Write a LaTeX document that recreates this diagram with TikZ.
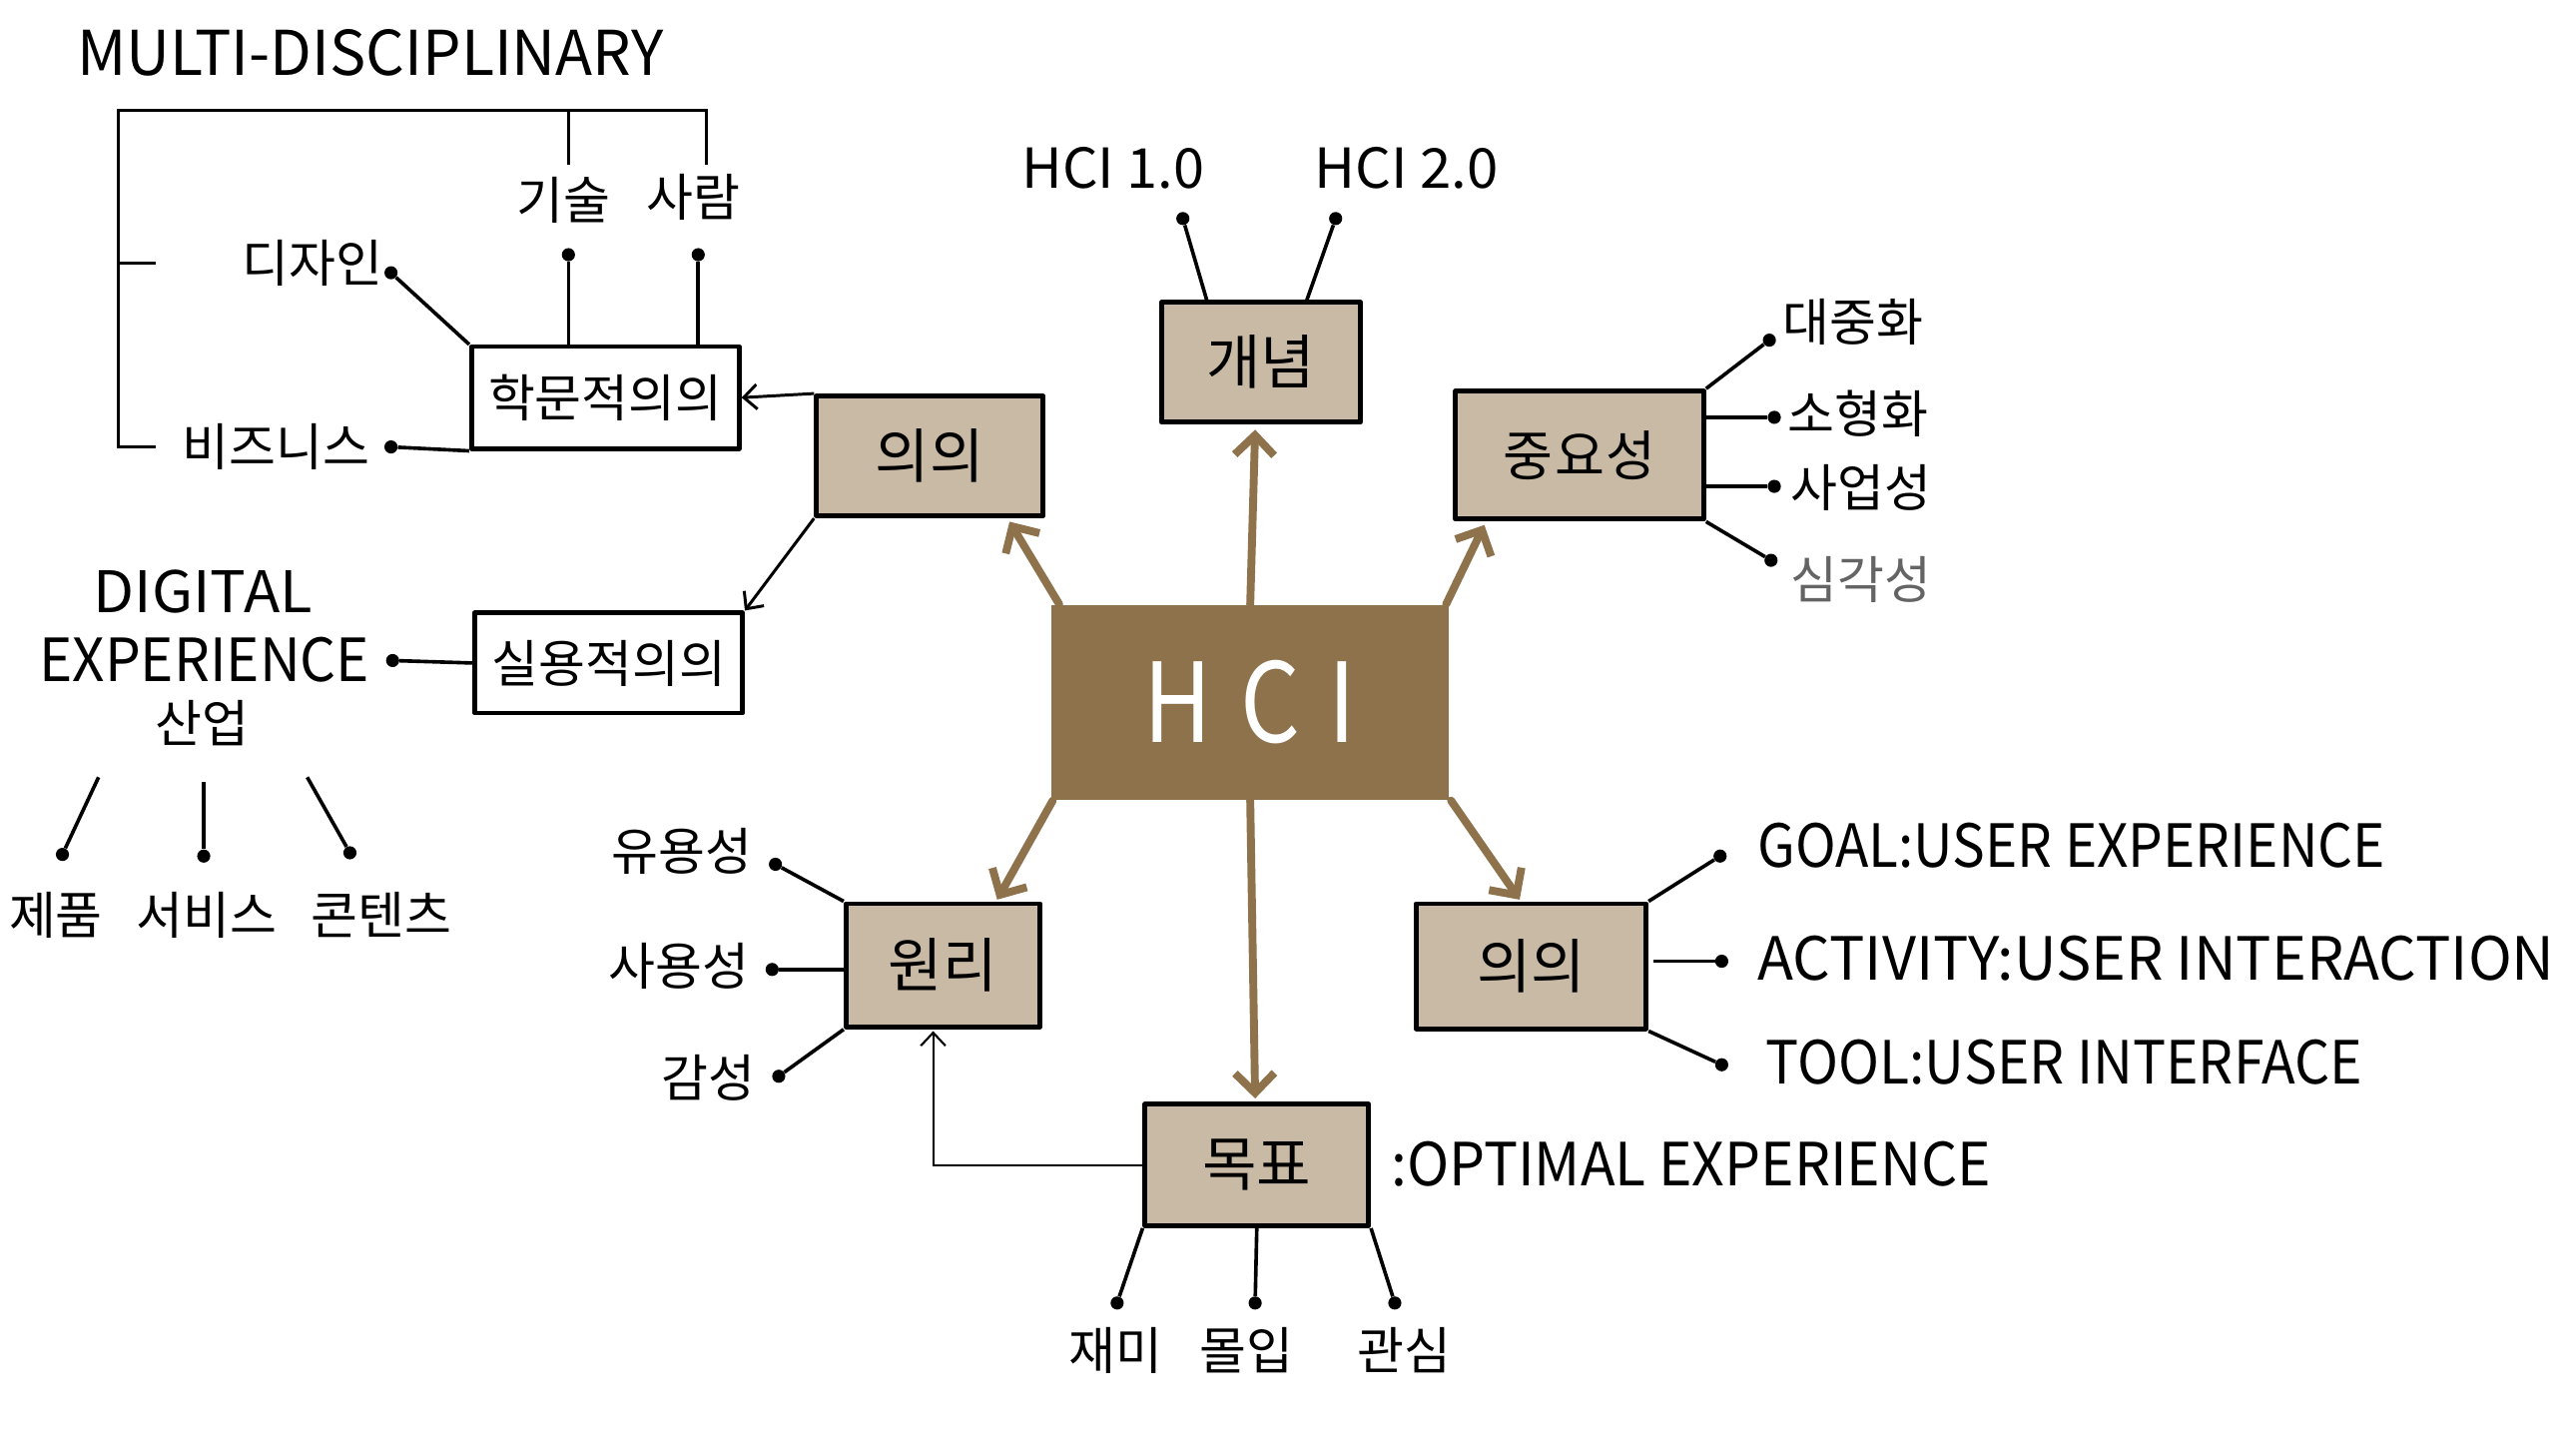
\documentclass[tikz,border=0pt]{standalone}
\usepackage{fontspec}
\usepackage{graphicx}
\setmainfont{Noto Sans CJK KR}
\usetikzlibrary{arrows.meta,calc}
\definecolor{tanfill}{RGB}{201,186,166}
\definecolor{hcibrown}{RGB}{142,114,76}
\definecolor{greytext}{RGB}{100,100,100}
\newcommand\fitbox[3]{\resizebox{#1pt}{#2pt}{#3}}
\begin{document}
\begin{tikzpicture}[x=1pt,y=-1pt,
 tanbox/.style={draw=black,line width=3pt,fill=tanfill,inner sep=0pt,line join=round,font=\fontsize{36}{38}\selectfont},
 whitebox/.style={draw=black,line width=2.8pt,fill=white,inner sep=0pt,line join=round,font=\fontsize{31}{33}\selectfont},
 hcibox/.style={fill=hcibrown,inner sep=0pt,text=white},
 lbl/.style={inner sep=0pt,font=\fontsize{31}{33}\selectfont},
 conn/.style={line width=2.2pt,draw=black},
 dot/.style={circle,fill=black,inner sep=0pt,minimum size=8pt},
 brownarrow/.style={draw=hcibrown,line width=4.8pt,line cap=round,-{Straight Barb[length=12pt,width=24pt]}},
 blackarrow/.style={draw=black,line width=1.8pt,-{Straight Barb[length=8pt,width=15pt]}},
]
\fill[white] (0,0) rectangle (1568,875);
\useasboundingbox (0,0) rectangle (1568,875);

% ---------- boxes ----------
\node[hcibox,minimum width=242pt,minimum height=119pt] (hci) at (761,427.5) {\fitbox{129}{50}{H\hspace{0.3em}C\hspace{0.3em}I}};
\node[tanbox,minimum width=121pt,minimum height=73pt] (concept) at (767.5,220.5) {개념};
\node[tanbox,minimum width=138pt,minimum height=73pt] (sig) at (566,277.5) {의의};
\node[tanbox,minimum width=151pt,minimum height=78pt,font=\fontsize{33}{36}\selectfont] (imp) at (961.5,277) {중\hspace{1pt}요\hspace{1pt}성};
\node[tanbox,minimum width=118pt,minimum height=75pt] (prin) at (574,587.5) {원리};
\node[tanbox,minimum width=140pt,minimum height=76pt] (mean2) at (932,588) {의의};
\node[tanbox,minimum width=136pt,minimum height=74pt] (goal) at (765,709) {목표};
\node[whitebox,minimum width=163pt,minimum height=62pt] (acad) at (368.5,242) {학문적의의};
\node[whitebox,minimum width=163pt,minimum height=61pt] (prac) at (370.5,403.5) {실용적의의};

% ---------- brown arrows from HCI ----------
\draw[brownarrow] (hci.north) -- ($(concept.south)+(-3.5,3)$);
\draw[brownarrow] ($(hci.north west)+(5,0)$) -- ($(sig.south east)+(-22,2)$);
\draw[brownarrow] ($(hci.north east)+(-2,0)$) -- ($(imp.south west)+(19,2)$);
\draw[brownarrow] ($(hci.south west)+(1,0)$) -- ($(prin.north)+(33,-1)$);
\draw[brownarrow] ($(hci.south east)+(1,0)$) -- ($(mean2.north)+(-7,-1)$);
\draw[brownarrow] (hci.south) -- ($(goal.north)+(-1,-2)$);

% ---------- black arrows ----------
\draw[blackarrow] (sig.north west) -- (acad.east);
\draw[blackarrow] (sig.south west) -- (prac.north east);
\draw[blackarrow,line width=1.3pt] (goal.west) -| ($(prin.south)+(-6,1)$);

% ---------- multi-disciplinary ----------
\node[inner sep=0pt] (multi) at (225.5,32) {\fitbox{357}{28}{MULTI-DISCIPLINARY}};
\coordinate (bTL) at (72,67);
\coordinate (bTR) at (430,67);
\coordinate (bBL) at (72,272);
\coordinate (bM) at (72,160);
\coordinate (bMr) at (95,160);
\coordinate (bBr) at (95,272);
\coordinate (bT1) at (346,67);
\coordinate (bT1e) at (346,100);
\coordinate (bT2e) at (430,100);
\draw[line width=1.8pt] (bT2e) -- (bTR) -- (bTL) -- (bBL) -- (bBr);
\draw[line width=1.8pt] (bM) -- (bMr);
\draw[line width=1.8pt] (bT1) -- (bT1e);

\node[lbl] (tech) at (343,122) {기술};
\node[lbl] (people) at (422,120) {사람};
\node[lbl] (design) at (190,160) {디자인};
\node[lbl] (biz) at (168,272) {비즈니스};
\node[dot] (dtech) at (346,155) {};
\node[dot] (dpeople) at (425,155) {};
\node[dot] (ddesign) at (238,166) {};
\node[dot] (dbiz) at (238,272) {};
\draw[conn] (dtech) -- (dtech |- acad.north);
\draw[conn] (dpeople) -- (dpeople |- acad.north);
\draw[conn] (ddesign) -- (acad.north west);
\draw[conn] (dbiz) -- (acad.south west);

% ---------- digital experience ----------
\node[inner sep=0pt] (digital) at (123.5,360) {\fitbox{133}{26}{DIGITAL}};
\node[inner sep=0pt] (exper) at (124.5,401.5) {\fitbox{201}{27}{EXPERIENCE}};
\node[lbl] (industry) at (123,440) {산업};
\node[dot] (dexp) at (239,402) {};
\draw[conn] (dexp) -- (prac.west);
\coordinate (s1) at (60,473);
\coordinate (s2) at (124,476);
\coordinate (s3) at (187,473);
\node[dot] (dprod) at (38,520) {};
\node[dot] (dserv) at (124,521) {};
\node[dot] (dcont) at (213,519) {};
\draw[conn] (s1) -- (dprod);
\draw[conn] (s2) -- (dserv);
\draw[conn] (s3) -- (dcont);
\node[lbl] (prod) at (34,557) {제품};
\node[lbl] (serv) at (126,557) {서비스};
\node[lbl] (cont) at (232,557) {콘텐츠};

% ---------- concept ----------
\node[inner sep=0pt] (hci1) at (677.5,102.5) {\fitbox{111}{25}{HCI 1.0}};
\node[inner sep=0pt] (hci2) at (856,102.5) {\fitbox{112}{25}{HCI 2.0}};
\node[dot] (dh1) at (720,133) {};
\node[dot] (dh2) at (813,133) {};
\draw[conn] (dh1) -- ($(concept.north west)+(29,0)$);
\draw[conn] (dh2) -- ($(concept.north west)+(90,0)$);

% ---------- importance ----------
\node[dot] (di1) at (1077,207) {};
\node[dot] (di2) at (1080,254) {};
\node[dot] (di3) at (1080,296) {};
\node[dot] (di4) at (1078,341) {};
\draw[conn] (imp.north east) -- (di1);
\draw[conn] (imp.east |- di2) -- (di2);
\draw[conn] (imp.east |- di3) -- (di3);
\draw[conn] (imp.south east) -- (di4);
\node[lbl] (mass) at (1128,196) {대중화};
\node[lbl] (small) at (1131,252) {소형화};
\node[lbl] (business) at (1133,297) {사업성};
\node[lbl,text=greytext] (serious) at (1133,353) {심각성};

% ---------- principles ----------
\node[dot] (dp1) at (472,526) {};
\node[dot] (dp2) at (470,590) {};
\node[dot] (dp3) at (474,655) {};
\draw[conn] (prin.north west) -- (dp1);
\draw[conn] (prin.west |- dp2) -- (dp2);
\draw[conn] (prin.south west) -- (dp3);
\node[lbl] (useful) at (415,518) {유용성};
\node[lbl] (usable) at (413,588) {사용성};
\node[lbl] (emotion) at (431,656) {감성};

% ---------- meaning (right) ----------
\node[dot] (dm1) at (1047,521) {};
\node[dot] (dm2) at (1048,585) {};
\node[dot] (dm3) at (1048,648) {};
\draw[conn] (mean2.north east) -- (dm1);
\draw[conn] ($(mean2.east |- dm2)+(3,0)$) -- (dm2);
\draw[conn] (mean2.south east) -- (dm3);
\node[inner sep=0pt] (goalux) at (1261,514.5) {\fitbox{382}{27}{GOAL:USER EXPERIENCE}};
\node[inner sep=0pt] (activity) at (1312.5,583.5) {\fitbox{485}{27}{ACTIVITY:USER INTERACTION}};
\node[inner sep=0pt] (tool) at (1256.5,646.5) {\fitbox{363}{27}{TOOL:USER INTERFACE}};

% ---------- goal ----------
\node[inner sep=0pt] (optimal) at (1029.5,708.5) {\fitbox{365}{27}{:OPTIMAL EXPERIENCE}};
\node[dot] (dg1) at (680,793) {};
\node[dot] (dg2) at (764,793) {};
\node[dot] (dg3) at (849,793) {};
\draw[conn] (goal.south west) -- (dg1);
\draw[conn] (goal.south) -- (dg2);
\draw[conn] (goal.south east) -- (dg3);
\node[lbl] (fun) at (679,822) {재미};
\node[lbl] (flow) at (759,822) {몰입};
\node[lbl] (interest) at (855,822) {관심};
\end{tikzpicture}
\end{document}
